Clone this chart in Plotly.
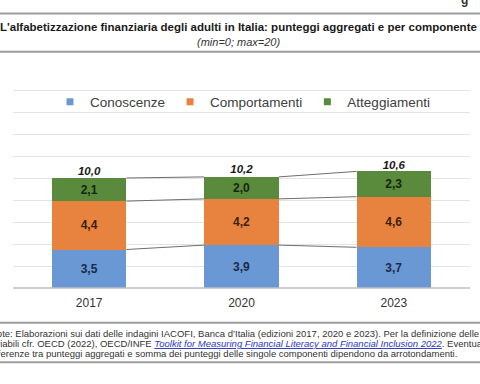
import plotly.graph_objects as go

years = ["2017", "2020", "2023"]
conoscenze = [3.5, 3.9, 3.7]
comportamenti = [4.4, 4.2, 4.6]
atteggiamenti = [2.1, 2.0, 2.3]
totali = [10.0, 10.2, 10.6]

def fmt(v):
    return f"{v:.1f}".replace(".", ",")

W, H = 480, 384
PX0, PX1, PY0, PY1 = 13, 470, 68, 288

def xp(px):
    return px / W

def yp(py):
    return (H - py) / H

xs = list(range(len(years)))
bw = 0.49

series = [
    ("Conoscenze", conoscenze, "#6a98d4", "#1b2b48"),
    ("Comportamenti", comportamenti, "#e8833f", "#3b1f0c"),
    ("Atteggiamenti", atteggiamenti, "#5a8a3b", "#16260d"),
]

fig = go.Figure()
for name, vals, col, tcol in series:
    fig.add_trace(go.Bar(
        x=xs, y=vals, name=name, width=bw,
        marker=dict(color=col, line=dict(width=0)),
        text=[fmt(v) for v in vals], textposition="inside",
        insidetextanchor="middle",
        textfont=dict(family="Liberation Sans, Arial", size=12, color=tcol, weight="bold"),
        textangle=0, hoverinfo="skip", showlegend=False,
    ))
    fig.add_trace(go.Scatter(
        x=[None], y=[None], mode="markers", name=name,
        marker=dict(symbol="square", size=7, color=col),
        hoverinfo="skip",
    ))

cum = [0.0] * len(years)
for _, vals, _, _ in series:
    cum = [c + v for c, v in zip(cum, vals)]
    for i in range(len(years) - 1):
        fig.add_trace(go.Scatter(
            x=[xs[i] + bw / 2, xs[i + 1] - bw / 2], y=[cum[i], cum[i + 1]],
            mode="lines", line=dict(color="#6e6e6e", width=1),
            showlegend=False, hoverinfo="skip",
        ))

fig.add_trace(go.Scatter(
    x=xs, y=totali, mode="text", text=[fmt(v) for v in totali],
    textposition="top center",
    textfont=dict(family="Liberation Sans, Arial", size=11.5, color="#1a1a1a",
                  weight="bold", style="italic"),
    showlegend=False, hoverinfo="skip", cliponaxis=False,
))

fig.update_layout(
    width=W, height=H, barmode="stack",
    margin=dict(l=0, r=0, t=0, b=0, pad=0),
    paper_bgcolor="white", plot_bgcolor="white",
    font=dict(family="Liberation Sans, Arial", color="#333333"),
    showlegend=True,
    legend=dict(orientation="h", x=xp(242.5), xanchor="center", y=yp(102), yanchor="middle",
                font=dict(size=13.5, color="#404040"), bgcolor="rgba(0,0,0,0)",
                traceorder="normal", itemwidth=30),
    xaxis=dict(domain=[xp(PX0), xp(PX1)], range=[-0.5, 2.5], tickvals=xs, ticktext=years,
               showgrid=False, zeroline=False, showline=False, ticks="", ticklabelstandoff=6,
               tickfont=dict(size=12, color="#333333")),
    yaxis=dict(domain=[yp(PY1), yp(PY0)], range=[0, 20], dtick=2, showticklabels=False,
               showgrid=True, gridcolor="#e3e3e3", gridwidth=1, zeroline=False,
               showline=False, ticks=""),
)

# bottom axis line and page rules
fig.add_shape(type="line", xref="paper", yref="paper", x0=xp(PX0), x1=xp(PX1),
              y0=yp(PY1), y1=yp(PY1), layer="above", line=dict(color="#bfbfbf", width=1.5))
for py in [13.5, 51.7, 322.7, 362.3]:
    fig.add_shape(type="rect", xref="paper", yref="paper", x0=0, x1=1,
                  y0=yp(py - 1), y1=yp(py + 1), layer="above",
                  fillcolor="#9c9c9c", line=dict(width=0))

ann = []
ann.append(dict(text="<b>L'alfabetizzazione finanziaria degli adulti in Italia: punteggi aggregati e per componente</b>",
                x=xp(238), y=yp(27), xanchor="center", yanchor="middle",
                font=dict(size=11.5, color="#1a1a1a")))
ann.append(dict(text="<i>(min=0; max=20)</i>", x=xp(238), y=yp(42), xanchor="center", yanchor="middle",
                font=dict(size=11, color="#333333")))
ann.append(dict(text="<b>g</b>", x=xp(464), y=yp(0), xanchor="center", yanchor="middle",
                font=dict(size=12, color="#333333")))

foot = [
    ("Note: Elaborazioni sui dati delle indagini IACOFI, Banca d’Italia (edizioni 2017, 2020 e 2023). Per la definizione delle", -12, 333),
    ("variabili cfr. OECD (2022), OECD/INFE <span style='color:#2b35c9;text-decoration:underline'><i>Toolkit for Measuring Financial Literacy and Financial Inclusion 2022</i></span>. Eventuali", -15, 343),
    ("differenze tra punteggi aggregati e somma dei punteggi delle singole componenti dipendono da arrotondamenti.", -14, 353),
]
for t, px, py in foot:
    ann.append(dict(text=t, x=xp(px), y=yp(py), xanchor="left", yanchor="middle",
                    font=dict(size=9.5, color="#333333")))

for a in ann:
    a.update(xref="paper", yref="paper", showarrow=False)
    fig.add_annotation(**a)

fig.write_html("out.html", config={"displayModeBar": False},
               post_script="document.body.style.margin='0';document.body.style.overflow='hidden';")
